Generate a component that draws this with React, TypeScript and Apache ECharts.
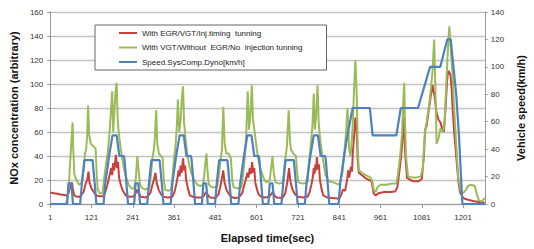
import React, { useEffect, useRef } from 'react';
import * as echarts from 'echarts';

// x: elapsed time index (label shown as index + 1), y: values
const xTickValues = [0, 120, 240, 360, 480, 600, 720, 840, 960, 1080, 1200];

const seriesNames = [
  'With EGR/VGT/Inj.timing  tunning',
  'With VGT/Without  EGR/No  injection tunning',
  'Speed.SysComp.Dyno[km/h]',
];

const noxWithEgr: [number, number][] = [
  [0, 9.5], [10, 9], [20, 8.5], [30, 8], [40, 7.5], [48, 7], [53, 9], [58, 14], [63, 18], [66, 12], [70, 7], [78, 6], [86, 6], [97, 10], [103, 17], [107, 20], [109, 23], [111, 27], [114, 18], [120, 13], [129, 9], [134, 7], [143, 6.5], [154, 6.5], [160, 10], [166, 16], [171, 22], [177, 30], [180, 24], [183, 34], [186, 28], [191, 41], [194, 30], [197, 35], [200, 22], [206, 15], [211, 11], [220, 7], [229, 6],
  [240, 6], [247, 8], [252, 12], [257, 9], [263, 6], [280, 5.5], [291, 9], [296, 15], [301, 20], [306, 26], [309, 18], [315, 12], [322, 8], [329, 6], [342, 5.5], [355, 6], [361, 10], [366, 16], [370, 22], [373, 28], [376, 23], [379, 32], [382, 26], [386, 38], [389, 28], [392, 32], [395, 20], [400, 13], [406, 7], [415, 6], [425, 5.5], [433, 5.5],
  [440, 5.5], [447, 7], [453, 10], [459, 7], [465, 5.5], [480, 5], [489, 8], [494, 14], [498, 20], [503, 28], [506, 19], [512, 12], [520, 8], [527, 6], [535, 5], [548, 5.5], [558, 9], [563, 15], [568, 20], [573, 26], [576, 22], [580, 30], [583, 25], [587, 35], [590, 26], [593, 30], [596, 18], [601, 12], [606, 8], [613, 6], [624, 5.5],
  [636, 6], [642, 8], [647, 10], [652, 7], [658, 5.5], [675, 5], [683, 9], [687, 15], [690, 20], [694, 30], [698, 19], [704, 12], [712, 8], [720, 6], [735, 5.5], [748, 6], [754, 10], [759, 16], [763, 22], [766, 30], [768, 25], [771, 33], [773, 28], [775, 39], [778, 29], [781, 33], [784, 20], [789, 12], [794, 7], [805, 5.5], [820, 5], [835, 4.5],
  [840, 4], [846, 8], [851, 12], [857, 11], [863, 20], [866, 28], [869, 22], [874, 31], [877, 27], [880, 45], [883, 55], [887, 72], [891, 60], [894, 35], [897, 26], [906, 24], [914, 22], [926, 20], [934, 19], [940, 9], [946, 7], [954, 9], [971, 10], [989, 10], [1003, 10.5], [1009, 14], [1014, 25], [1020, 40], [1026, 60], [1029, 72], [1031, 45], [1037, 22], [1046, 20], [1057, 19], [1071, 19], [1080, 21], [1086, 40], [1090, 62], [1094, 65], [1100, 78], [1106, 90], [1111, 99], [1117, 90], [1123, 76], [1129, 70], [1134, 68], [1140, 62], [1144, 60], [1149, 80], [1154, 105], [1157, 111], [1163, 108], [1167, 95], [1170, 78], [1174, 60], [1180, 40], [1186, 20], [1191, 10], [1200, 5], [1214, 3.5], [1229, 2.5], [1249, 1.5], [1263, 1],
];

const noxWithoutEgr: [number, number][] = [
  [0, 0], [46, 0], [49, 3], [54, 15], [58, 35], [61, 50], [65, 68], [67, 45], [70, 25], [76, 20], [84, 16], [92, 18], [98, 30], [101, 42], [104, 45], [107, 55], [110, 82], [113, 58], [118, 50], [126, 48], [132, 46], [135, 25], [138, 12], [144, 9], [152, 9], [157, 22], [163, 35], [168, 45], [173, 62], [177, 80], [180, 94], [183, 60], [186, 75], [190, 95], [193, 101], [196, 70], [200, 57], [204, 48], [209, 38], [214, 30], [221, 22], [228, 16], [236, 13],
  [244, 13], [249, 22], [253, 40], [257, 28], [261, 16], [268, 13], [279, 12], [288, 14], [293, 25], [297, 38], [301, 45], [304, 55], [308, 78], [311, 50], [316, 42], [322, 40], [327, 38], [330, 20], [334, 12], [343, 11], [351, 12], [356, 25], [360, 38], [364, 48], [368, 65], [371, 87], [375, 60], [379, 70], [383, 90], [386, 98], [389, 68], [393, 55], [398, 42], [404, 32], [410, 26], [418, 20], [428, 16],
  [436, 15], [444, 16], [448, 25], [451, 35], [454, 42], [457, 28], [461, 16], [470, 14], [485, 14], [490, 24], [495, 37], [499, 45], [503, 81], [507, 50], [512, 42], [519, 42], [525, 38], [529, 20], [533, 14], [545, 13], [556, 14], [561, 26], [566, 40], [570, 60], [574, 94], [578, 62], [582, 75], [586, 99], [589, 72], [594, 60], [603, 40], [610, 30], [617, 24], [624, 19],
  [631, 18], [638, 20], [642, 30], [646, 40], [649, 28], [654, 18], [665, 17], [677, 18], [680, 30], [684, 40], [688, 48], [693, 78], [697, 52], [700, 45], [707, 42], [714, 40], [718, 25], [721, 18], [735, 17], [748, 18], [752, 35], [757, 48], [762, 65], [766, 92], [769, 62], [772, 70], [777, 99], [780, 70], [784, 55], [791, 40], [800, 24], [810, 19], [823, 18],
  [840, 16], [849, 25], [854, 40], [860, 60], [864, 80], [869, 45], [873, 40], [877, 55], [880, 70], [883, 95], [887, 120], [891, 90], [894, 45], [897, 28], [906, 26], [917, 24], [931, 22], [937, 18], [940, 12], [946, 10], [951, 14], [960, 16], [977, 16], [994, 17], [1006, 17], [1011, 25], [1017, 40], [1023, 60], [1026, 85], [1029, 101], [1031, 70], [1034, 40], [1040, 23], [1051, 22], [1063, 22], [1077, 23], [1083, 30], [1089, 60], [1094, 68], [1100, 80], [1106, 95], [1111, 110], [1116, 137], [1120, 90], [1123, 50], [1129, 55], [1134, 63], [1140, 60], [1146, 65], [1151, 100], [1157, 135], [1160, 148], [1163, 135], [1169, 110], [1174, 80], [1180, 50], [1186, 22], [1194, 10], [1200, 9], [1209, 12], [1214, 15], [1223, 16], [1234, 15], [1240, 8], [1246, 3], [1254, 2], [1263, 5],
];

const vehicleSpeed: [number, number][] = [
  [0, 0], [38, 0], [49, 0], [53, 15], [61, 15], [63, 10], [66, 0], [87, 0], [92, 15], [94, 15], [99, 32], [123, 32], [131, 10], [134, 0], [155, 0], [160, 15], [162, 15], [171, 35], [173, 35], [181, 50], [193, 50], [201, 35], [214, 35], [216, 32], [223, 10], [226, 0],
  [244, 0], [248, 15], [256, 15], [258, 10], [261, 0], [282, 0], [287, 15], [289, 15], [294, 32], [318, 32], [326, 10], [329, 0], [350, 0], [355, 15], [357, 15], [366, 35], [368, 35], [376, 50], [388, 50], [396, 35], [409, 35], [411, 32], [418, 10], [421, 0],
  [441, 0], [445, 15], [453, 15], [455, 10], [458, 0], [479, 0], [484, 15], [486, 15], [491, 32], [515, 32], [523, 10], [526, 0], [547, 0], [552, 15], [554, 15], [563, 35], [565, 35], [573, 50], [585, 50], [593, 35], [606, 35], [608, 32], [615, 10], [618, 0],
  [634, 0], [638, 15], [646, 15], [648, 10], [651, 0], [672, 0], [677, 15], [679, 15], [684, 32], [708, 32], [716, 10], [719, 0], [740, 0], [745, 15], [747, 15], [756, 35], [758, 35], [766, 50], [778, 50], [786, 35], [799, 35], [801, 32], [808, 10], [811, 0],
  [838, 0], [843, 15], [845, 15], [854, 35], [856, 35], [864, 50], [866, 50], [879, 70], [929, 70], [937, 50], [1006, 50], [1019, 70], [1069, 70], [1104, 100], [1134, 100], [1154, 120], [1164, 120], [1180, 80], [1188, 50], [1198, 0], [1263, 0],
];

const FONT = '"Liberation Sans", Arial, sans-serif';

export default function App() {
  const ref = useRef<HTMLDivElement>(null);

  useEffect(() => {
    document.body.style.margin = '0';
    if (!ref.current) return;
    const chart = echarts.init(ref.current, undefined, { renderer: 'svg' });
    const axisGray = '#9a9a9a';
    chart.setOption({
      animation: false,
      backgroundColor: '#ffffff',
      textStyle: { fontFamily: FONT },
      grid: { left: 50, right: 42, top: 12, bottom: 45, containLabel: false },
      legend: {
        orient: 'vertical',
        left: 95,
        top: 25,
        icon: 'rect',
        itemWidth: 18,
        itemHeight: 2,
        itemGap: 4.5,
        itemTextGap: 2,
        padding: [3, 24, 3, 24],
        backgroundColor: '#ffffff',
        borderColor: '#666666',
        borderWidth: 1,
        textStyle: { fontSize: 8, color: '#222', lineHeight: 10, fontFamily: FONT },
        data: seriesNames,
      },
      xAxis: {
        type: 'value',
        min: 0,
        max: 1263,
        name: 'Elapsed time(sec)',
        nameLocation: 'middle',
        nameGap: 28,
        nameTextStyle: { fontSize: 11, fontWeight: 'bold', color: '#111', fontFamily: FONT },
        axisLine: { show: true, lineStyle: { color: axisGray, width: 1 } },
        axisTick: { show: true, length: 4, customValues: xTickValues, lineStyle: { color: axisGray } },
        axisLabel: {
          customValues: xTickValues,
          formatter: (v: number) => String(v + 1),
          fontSize: 8,
          color: '#333',
          margin: 9,
        },
        splitLine: { show: false },
      },
      yAxis: [
        {
          type: 'value',
          min: 0,
          max: 160,
          interval: 20,
          position: 'left',
          name: 'NOx concentration (arbitrary)',
          nameLocation: 'middle',
          nameGap: 30,
          nameRotate: 90,
          nameTextStyle: { fontSize: 11, fontWeight: 'bold', color: '#111', fontFamily: FONT },
          axisLine: { show: true, lineStyle: { color: axisGray, width: 1 } },
          axisTick: { show: true, length: 3, lineStyle: { color: axisGray } },
          axisLabel: { fontSize: 8, color: '#333', margin: 7 },
          splitLine: { show: true, lineStyle: { color: '#c2c2c2', width: 1.4 } },
        },
        {
          type: 'value',
          min: 0,
          max: 140,
          interval: 20,
          position: 'right',
          name: 'Vehicle speed(km/h)',
          nameLocation: 'middle',
          nameGap: 29,
          nameRotate: 90,
          nameTextStyle: { fontSize: 11, fontWeight: 'bold', color: '#111', fontFamily: FONT },
          axisLine: { show: true, lineStyle: { color: axisGray, width: 1 } },
          axisTick: { show: true, length: 3, lineStyle: { color: axisGray } },
          axisLabel: { fontSize: 8, color: '#333', margin: 6 },
          splitLine: { show: false },
        },
      ],
      series: [
        {
          name: seriesNames[0],
          type: 'line',
          yAxisIndex: 0,
          data: noxWithEgr,
          symbol: 'none',
          color: '#C9403D',
          lineStyle: { width: 2, color: '#C9403D' },
        },
        {
          name: seriesNames[1],
          type: 'line',
          yAxisIndex: 0,
          data: noxWithoutEgr,
          symbol: 'none',
          color: '#9BBB59',
          lineStyle: { width: 2, color: '#9BBB59' },
        },
        {
          name: seriesNames[2],
          type: 'line',
          yAxisIndex: 1,
          data: vehicleSpeed,
          symbol: 'none',
          color: '#4F81BD',
          lineStyle: { width: 2.2, color: '#4F81BD' },
        },
      ],
    });
    return () => chart.dispose();
  }, []);

  return <div ref={ref} style={{ width: 534, height: 249 }} />;
}
